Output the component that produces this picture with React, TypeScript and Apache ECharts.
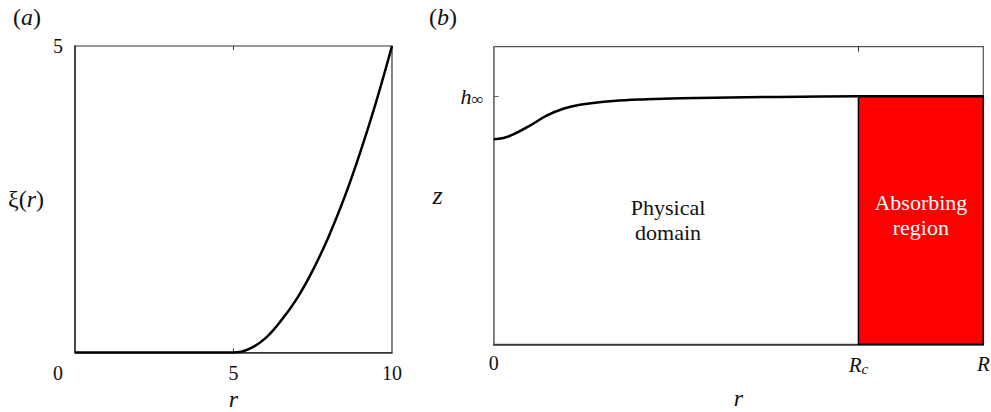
import React, { useEffect, useRef } from "react";
import * as echarts from "echarts";

// Panel (a): xi(r)
const panelAR = [0, 1, 2, 3, 4, 4.5, 5, 5.5, 6, 6.5, 7, 7.5, 8, 8.5, 9, 9.5, 10];
const panelAXi = [0, 0, 0, 0, 0, 0, 0, 0.06, 0.23, 0.52, 0.88, 1.34, 1.89, 2.53, 3.27, 4.09, 5];
const panelAXTicks = [0, 5, 10];
const panelAYTicks = [0, 5];

// Panel (b): free surface z(r)
const panelBR = [0, 0.02, 0.04, 0.074, 0.108, 0.142, 0.176, 0.244, 0.3125, 0.381, 0.517, 0.745, 1];
const panelBZ = [0.827, 0.832, 0.846, 0.882, 0.922, 0.95, 0.966, 0.981, 0.988, 0.992, 0.996, 1.0, 1.0];
const R_C = 0.745;
const R_MAX = 1;
const H_INF = 1;
const Z_MAX = 1.2;

const SERIF = "Liberation Serif";

const tok = (size: number, extra: any = {}) => ({
  fontFamily: SERIF,
  fontSize: size,
  fontWeight: "normal",
  color: "#111",
  ...extra,
});

export default function App() {
  const ref = useRef<HTMLDivElement>(null);
  useEffect(() => {
    if (!ref.current) return;
    const chart = echarts.init(ref.current, null, { renderer: "svg" });
    const richBig = {
      n: tok(24),
      i: tok(24, { fontStyle: "italic" }),
    };
    const richTick = {
      t: tok(20),
      z: tok(20, { padding: [41, 0, 0, 0] }),
      i: tok(21, { fontStyle: "italic" }),
      s: tok(15, { fontStyle: "italic", verticalAlign: "bottom", padding: [8, 0, 0, 0] }),
    };
    chart.setOption({
      animation: false,
      backgroundColor: "#fff",
      textStyle: { fontFamily: SERIF },
      title: [
        {
          text: "{n|(}{i|a}{n|)}",
          left: 8,
          top: 0,
          textStyle: { fontFamily: SERIF, fontWeight: "normal", rich: richBig },
        },
        {
          text: "{n|(}{i|b}{n|)}",
          left: 424,
          top: 0,
          textStyle: { fontFamily: SERIF, fontWeight: "normal", rich: richBig },
        },
      ],
      grid: [
        { left: 75, top: 46, width: 317, height: 306.5, show: true, borderColor: "#333", borderWidth: 1.2, backgroundColor: "transparent", containLabel: false, outerBoundsMode: "none" },
        { left: 493.7, top: 46.7, width: 489.6, height: 297.6, show: true, borderColor: "#555", borderWidth: 1.2, backgroundColor: "transparent", containLabel: false, outerBoundsMode: "none" },
      ],
      xAxis: [
        {
          gridIndex: 0,
          type: "value",
          min: 0,
          max: 10,
          splitLine: { show: false },
          axisLine: { show: true, lineStyle: { color: "#333", width: 1.5 } },
          axisTick: { show: true, inside: true, length: 4, customValues: [5], lineStyle: { color: "#333" } },
          axisLabel: {
            fontFamily: SERIF,
            fontSize: 20,
            margin: 10,
            customValues: panelAXTicks.filter((v) => v !== 0),
            formatter: (v: number) => `{t|${v}}`,
            rich: richTick,
          },
          name: "{i|r}",
          nameLocation: "middle",
          nameGap: 32,
          nameTextStyle: { fontFamily: SERIF, rich: richBig },
        },
        {
          gridIndex: 0,
          type: "value",
          position: "top",
          min: 0,
          max: 10,
          splitLine: { show: false },
          axisLine: { show: false },
          axisTick: { show: true, inside: true, length: 4, customValues: [5], lineStyle: { color: "#333" } },
          axisLabel: { show: false },
        },
        {
          gridIndex: 1,
          type: "value",
          min: 0,
          max: R_MAX,
          splitLine: { show: false },
          axisLine: { show: true, lineStyle: { color: "#333", width: 1.5 } },
          axisTick: { show: false },
          axisLabel: {
            fontFamily: SERIF,
            fontSize: 20,
            margin: 9,
            customValues: [0, R_C, R_MAX],
            formatter: (v: number) =>
              v === 0 ? "{t|0}" : Math.abs(v - R_C) < 1e-6 ? "{i|R}{s|c}" : "{i|R}",
            rich: richTick,
          },
          name: "{i|r}",
          nameLocation: "middle",
          nameGap: 42,
          nameTextStyle: { fontFamily: SERIF, rich: richBig },
        },
        {
          gridIndex: 1,
          type: "value",
          position: "top",
          min: 0,
          max: R_MAX,
          splitLine: { show: false },
          axisLine: { show: false },
          axisTick: { show: true, inside: true, length: 5, customValues: [R_C], lineStyle: { color: "#333" } },
          axisLabel: { show: false },
        },
      ],
      yAxis: [
        {
          gridIndex: 0,
          type: "value",
          min: 0,
          max: 5,
          splitLine: { show: false },
          axisLine: { show: true, lineStyle: { color: "#333", width: 1.5 } },
          axisTick: { show: false },
          axisLabel: {
            fontFamily: SERIF,
            fontSize: 20,
            margin: 12,
            customValues: panelAYTicks,
            formatter: (v: number) => (v === 0 ? "{z|0}" : `{t|${v}}`),
            rich: richTick,
          },
          name: "{n|ξ(}{i|r}{n|)}",
          nameLocation: "middle",
          nameRotate: 0,
          nameGap: 31,
          nameTextStyle: { fontFamily: SERIF, rich: richBig },
        },
        {
          gridIndex: 1,
          type: "value",
          min: 0,
          max: Z_MAX,
          splitLine: { show: false },
          axisLine: { show: true, lineStyle: { color: "#777", width: 1.5 } },
          axisTick: { show: true, inside: true, length: 5, customValues: [H_INF], lineStyle: { color: "#666" } },
          axisLabel: {
            fontFamily: SERIF,
            fontSize: 20,
            margin: 10,
            customValues: [H_INF],
            formatter: () => "{h|h}{o|∞}",
            rich: {
              h: tok(22, { fontStyle: "italic" }),
              o: tok(17, { verticalAlign: "bottom", padding: [7, 0, 0, 0] }),
            },
          },
          name: "{i|z}",
          nameLocation: "middle",
          nameRotate: 0,
          nameGap: 51,
          nameTextStyle: { fontFamily: SERIF, rich: { i: tok(26, { fontStyle: "italic" }) } },
        },
      ],
      series: [
        {
          type: "line",
          xAxisIndex: 0,
          yAxisIndex: 0,
          data: panelAR.map((r, k) => [r, panelAXi[k]]),
          smooth: 0.4,
          symbol: "none",
          lineStyle: { color: "#000", width: 2.5 },
          z: 5,
        },
        {
          type: "line",
          xAxisIndex: 2,
          yAxisIndex: 1,
          data: panelBR.map((r, k) => [r, panelBZ[k]]),
          smooth: 0.4,
          symbol: "none",
          lineStyle: { color: "#000", width: 2.5 },
          z: 5,
          markArea: {
            silent: true,
            data: [
              [
                {
                  xAxis: 0,
                  yAxis: 0,
                  itemStyle: { color: "rgba(0,0,0,0)", borderWidth: 0 },
                  label: {
                    show: true,
                    position: "inside",
                    formatter: "{t|Physical}\n{t|domain}",
                    fontFamily: SERIF,
                    rich: { t: tok(22, { lineHeight: 25 }) },
                    offset: [-8, 0],
                  },
                },
                { xAxis: R_C, yAxis: H_INF },
              ],
              [
                {
                  xAxis: R_C,
                  yAxis: 0,
                  itemStyle: { color: "#ff0000", borderColor: "#000", borderWidth: 1.5 },
                  label: {
                    show: true,
                    position: "inside",
                    formatter: "{t|Absorbing}\n{t|region}",
                    fontFamily: SERIF,
                    rich: { t: tok(22, { lineHeight: 25, color: "#fff" }) },
                    offset: [0, -5],
                  },
                },
                { xAxis: R_MAX, yAxis: H_INF },
              ],
            ],
          },
        },
      ],
    });
    return () => chart.dispose();
  }, []);
  return (
    <div
      ref={ref}
      style={{ position: "fixed", left: 0, top: 0, width: 991, height: 412, background: "#fff" }}
    />
  );
}
